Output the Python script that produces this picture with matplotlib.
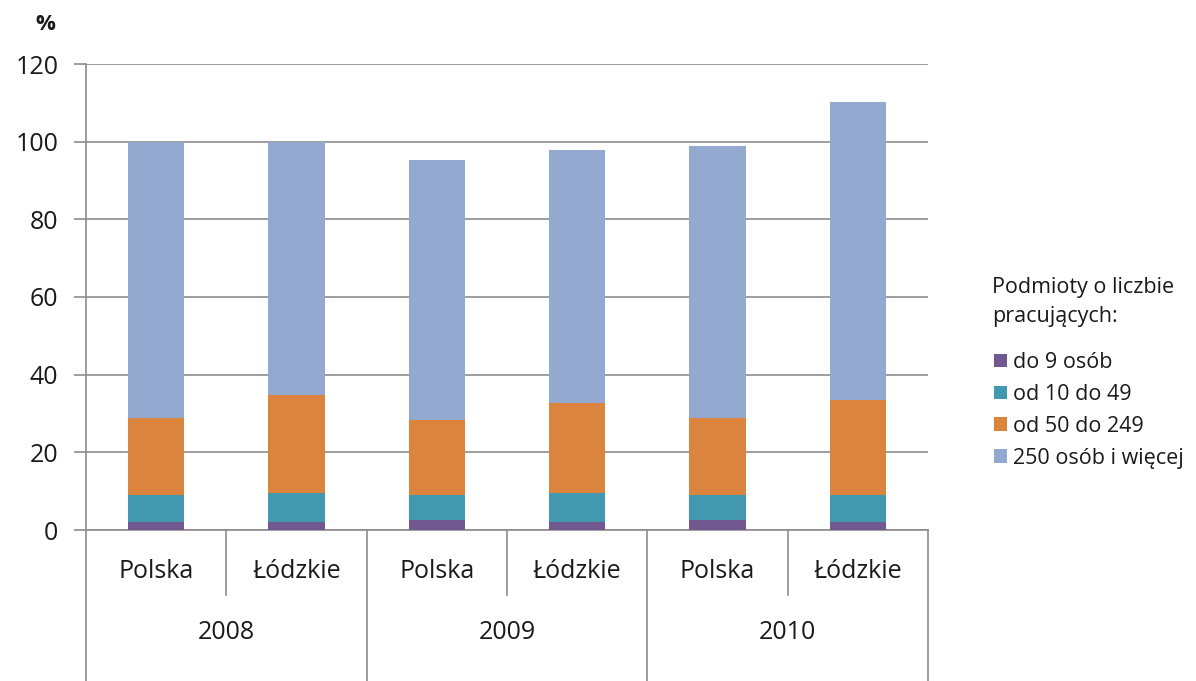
import matplotlib
matplotlib.use("Agg")
import matplotlib.pyplot as plt
import matplotlib.transforms as mtransforms
from matplotlib.patches import Patch
import numpy as np

plt.rcParams['font.family'] = ['Open Sans', 'DejaVu Sans']

years = ["2008", "2009", "2010"]
regions = ["Polska", "Łódzkie"]
series_names = ["do 9 osób", "od 10 do 49", "od 50 do 249", "250 osób i więcej"]
legend_title = ["Podmioty o liczbie", "pracujących:"]
# stacked segment values (%), bars in order: Polska 2008, Łódzkie 2008, Polska 2009, ...
do9 = [2.1, 2.1, 2.5, 2.1, 2.5, 2.1]
od10 = [7.0, 7.3, 6.6, 7.3, 6.6, 7.0]
od50 = [19.8, 25.3, 19.3, 23.4, 19.8, 24.4]
od250 = [71.1, 65.3, 67.0, 65.1, 70.1, 76.8]
colors = ["#71588F", "#4198AF", "#DB843D", "#93A9CF"]
y_ticks = [0, 20, 40, 60, 80, 100, 120]

W, H = 1196, 681
fig = plt.figure(figsize=(W / 100, H / 100), dpi=100)
ax = fig.add_axes([86 / W, 1 - 530 / H, (928 - 86) / W, (530 - 64) / H])

x = np.arange(len(do9))
bottom = np.zeros(len(do9))
for vals, c in zip([do9, od10, od50, od250], colors):
    ax.bar(x, vals, width=0.4, bottom=bottom, color=c, zorder=3, linewidth=0)
    bottom += np.array(vals)

txt = "#1a1a1a"
ax.set_xlim(-0.5, len(do9) - 0.5)
ax.set_ylim(0, 120)
ax.set_yticks(y_ticks)
ax.set_yticklabels([str(t) for t in y_ticks], fontsize=18, color=txt)
ax.yaxis.grid(True, color="#8c8c8c", linewidth=1.2, zorder=0)
ax.set_axisbelow(True)
ax.tick_params(axis='y', length=9, width=1.2, color="#8c8c8c", pad=11)
ax.set_xticks([])
for s in ["top", "right"]:
    ax.spines[s].set_visible(False)
for s in ["left", "bottom"]:
    ax.spines[s].set_color("#8c8c8c")
    ax.spines[s].set_linewidth(1.2)

trans = mtransforms.blended_transform_factory(ax.transData, ax.transAxes)
grey = "#8c8c8c"
# major (year) separators
for xv in [-0.5, 1.5, 3.5, 5.5]:
    ax.plot([xv, xv], [0, -0.33], transform=trans, color=grey, lw=1.2, clip_on=False)
# minor separators
for xv in [0.5, 2.5, 4.5]:
    ax.plot([xv, xv], [0, -0.14], transform=trans, color=grey, lw=1.2, clip_on=False)

for i in range(len(do9)):
    ax.text(i, -0.088, regions[i % 2], transform=trans, ha='center', va='center',
            fontsize=18, color=txt)
for j, yr in enumerate(years):
    ax.text(2 * j + 0.5, -0.22, yr, transform=trans, ha='center', va='center',
            fontsize=18, color=txt)

fig.text(45 / W, 1 - 24 / H, "%", ha='center', va='center', fontsize=16,
         color=txt, fontweight='bold')

# legend title (two lines)
fig.text(992 / W, 1 - 288 / H, legend_title[0], ha='left', va='center',
         fontsize=15.5, color=txt)
fig.text(992 / W, 1 - 316 / H, legend_title[1], ha='left', va='center',
         fontsize=15.5, color=txt)

handles = [Patch(facecolor=c, edgecolor='none') for c in colors]
leg = fig.legend(handles, series_names, loc='upper left',
                 bbox_to_anchor=(977 / W, 1 - 335 / H), frameon=False,
                 fontsize=15.5, handlelength=0.6, handleheight=0.6,
                 handletextpad=0.25, labelspacing=0.5, borderpad=0.3)
for t in leg.get_texts():
    t.set_color(txt)

fig.savefig("out.png", dpi=100)
